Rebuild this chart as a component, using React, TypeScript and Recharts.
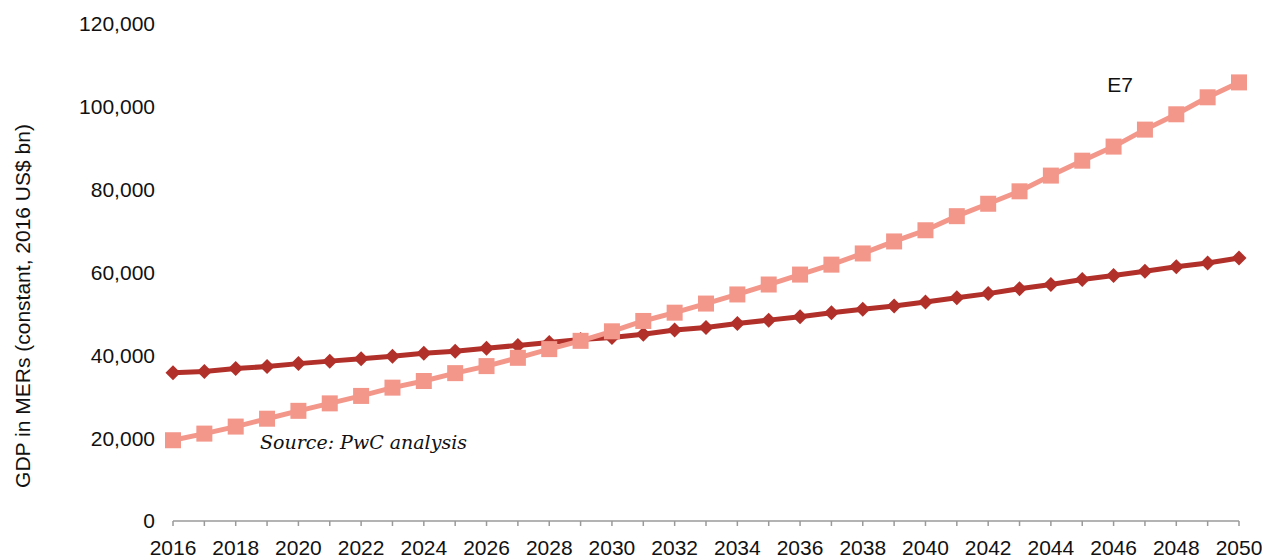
import { LineChart, Line, XAxis, YAxis, LabelList } from "recharts";

const years = [
  2016, 2017, 2018, 2019, 2020, 2021, 2022, 2023, 2024, 2025, 2026, 2027,
  2028, 2029, 2030, 2031, 2032, 2033, 2034, 2035, 2036, 2037, 2038, 2039,
  2040, 2041, 2042, 2043, 2044, 2045, 2046, 2047, 2048, 2049, 2050,
];

// G7 (dark red, diamonds)
const g7 = [
  35800, 36100, 36800, 37300, 38000, 38600, 39200, 39800, 40500, 41000, 41700,
  42400, 43100, 43800, 44300, 45100, 46100, 46700, 47700, 48500, 49300, 50300,
  51100, 51900, 52900, 53900, 54900, 56100, 57100, 58300, 59300, 60300, 61400,
  62300, 63500,
];

// E7 (salmon, squares)
const e7 = [
  19500, 21100, 22800, 24700, 26600, 28400, 30200, 32200, 33800, 35700, 37400,
  39400, 41500, 43500, 45800, 48300, 50300, 52500, 54700, 57100, 59500, 61900,
  64600, 67500, 70200, 73600, 76600, 79600, 83400, 87000, 90400, 94500, 98200,
  102300, 105900,
];

const yTicks = [0, 20000, 40000, 60000, 80000, 100000, 120000];

const data = years.map((year, i) => ({ year, g7: g7[i], e7: e7[i] }));

const SANS = "'Liberation Sans', Arial, sans-serif";
const DARK = "#B2302A";
const LIGHT = "#F3978B";

const Diamond = (props: any) => {
  const { cx, cy, index } = props;
  if (cx == null || cy == null) return <g key={`d-${index}`} />;
  const r = 7.5;
  return (
    <polygon
      key={`d-${index}`}
      points={`${cx},${cy - r} ${cx + r},${cy} ${cx},${cy + r} ${cx - r},${cy}`}
      fill={DARK}
    />
  );
};

const Square = (props: any) => {
  const { cx, cy, index } = props;
  if (cx == null || cy == null) return <g key={`s-${index}`} />;
  return <rect key={`s-${index}`} x={cx - 8} y={cy - 8} width={16} height={16} fill={LIGHT} />;
};

const XTick = (props: any) => {
  const { x, y, payload } = props;
  if (payload.value % 2 !== 0) return <g />;
  return (
    <text x={x} y={y} dy="0.71em" textAnchor="middle" fontSize={21} fontFamily={SANS} fill="#111">
      {payload.value}
    </text>
  );
};

const E7Label = (props: any) => {
  const { x, y, index } = props;
  if (index !== years.length - 1) return null;
  return (
    <text x={x - 119} y={y + 2} textAnchor="middle" dominantBaseline="central" fontSize={21} fontFamily={SANS} fill="#111">
      E7
    </text>
  );
};

export default function App() {
  return (
    <div style={{ position: "absolute", left: 0, top: 0, width: 1262, height: 558, background: "#fff" }}>
      <LineChart width={1262} height={558} data={data} margin={{ top: 24, right: 23, bottom: 7, left: 73 }}>
        <XAxis
          dataKey="year"
          type="number"
          domain={[2016, 2050]}
          ticks={years}
          interval={0}
          stroke="#9a9a9a"
          strokeWidth={1.5}
          tickSize={5}
          tickMargin={14}
          tick={<XTick />}
        />
        <YAxis
          type="number"
          domain={[0, 120000]}
          ticks={yTicks}
          width={100}
          axisLine={false}
          tickLine={false}
          tickSize={6}
          tickMargin={12}
          tick={{ fontSize: 21, fontFamily: SANS, fill: "#111" }}
          tickFormatter={(v: number) => v.toLocaleString("en-US")}
        />
        <Line
          dataKey="g7"
          stroke={DARK}
          strokeWidth={5}
          dot={<Diamond />}
          activeDot={false}
          isAnimationActive={false}
        />
        <Line
          dataKey="e7"
          stroke={LIGHT}
          strokeWidth={5}
          dot={<Square />}
          activeDot={false}
          isAnimationActive={false}
        >
          <LabelList dataKey="e7" content={<E7Label />} />
        </Line>
      </LineChart>
      <div
        style={{
          position: "absolute",
          left: 22,
          top: 306,
          transform: "translate(-50%, -50%) rotate(-90deg)",
          whiteSpace: "nowrap",
          fontSize: 21,
          fontFamily: SANS,
          color: "#111",
          lineHeight: 1,
        }}
      >
        GDP in MERs (constant, 2016 US$ bn)
      </div>
      <div
        style={{
          position: "absolute",
          left: 260,
          top: 433,
          whiteSpace: "nowrap",
          fontSize: 19,
          fontFamily: "'DejaVu Serif', serif",
          fontStyle: "italic",
          color: "#111",
          lineHeight: 1,
        }}
      >
        Source: PwC analysis
      </div>
    </div>
  );
}
